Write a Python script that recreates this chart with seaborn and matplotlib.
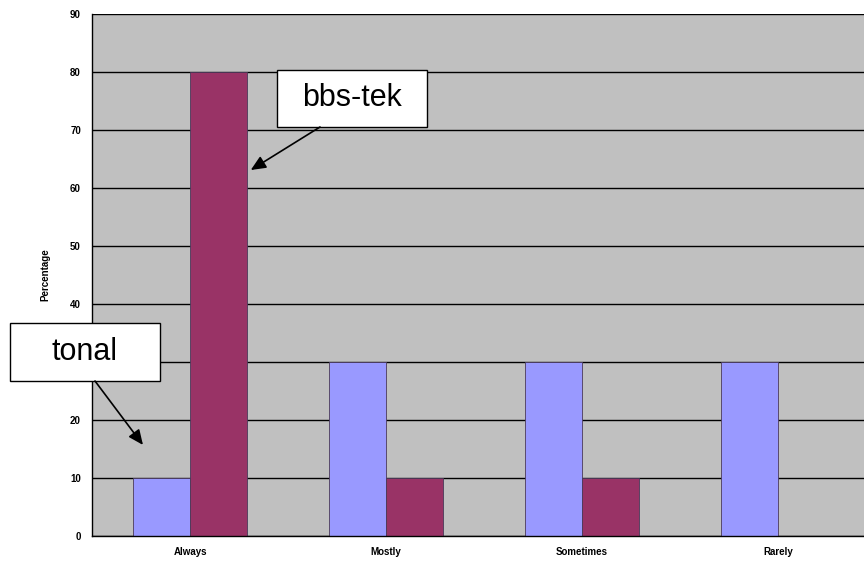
import pandas as pd
import matplotlib.pyplot as plt
import seaborn as sns
from matplotlib.patches import Rectangle

# Datos
categorias = ['Always', 'Mostly', 'Sometimes', 'Rarely']
tonal = [10, 30, 30, 30]
bbs_tek = [80, 10, 10, 0]
series = ['tonal', 'bbs-tek']
colores = ['#9999FF', '#993366']
y_ticks = [0, 10, 20, 30, 40, 50, 60, 70, 80, 90]

df = pd.DataFrame({
    'categoria': categorias * 2,
    'serie': ['tonal'] * 4 + ['bbs-tek'] * 4,
    'valor': tonal + bbs_tek,
})

sns.set_style('white')
plt.rcParams['font.family'] = ['Liberation Sans', 'DejaVu Sans']
plt.rcParams['text.color'] = 'black'
plt.rcParams['xtick.color'] = 'black'
plt.rcParams['ytick.color'] = 'black'
plt.rcParams['axes.labelcolor'] = 'black'

fig = plt.figure(figsize=(8.64, 5.62), dpi=100)
ax = fig.add_axes([92 / 864, 1 - 536 / 562, 784 / 864, 522 / 562])
ax.set_facecolor('#C0C0C0')

sns.barplot(data=df, x='categoria', y='valor', hue='serie', order=categorias,
            hue_order=series, palette=colores, saturation=1, width=0.58, gap=0,
            edgecolor='#4a3a5a', linewidth=0.6, legend=False, ax=ax, zorder=3)

ax.set_xlim(-0.5, 3.5)
ax.set_ylim(0, 90)
ax.set_yticks(y_ticks)
for v in y_ticks:
    ax.axhline(v, color='black', lw=1, zorder=1)

ax.set_xticks(range(4))
ax.set_xticklabels(categorias, fontsize=7, fontweight='bold')
ax.set_xticks([-0.5, 0.5, 1.5, 2.5, 3.5], minor=True)
ax.tick_params(axis='x', which='major', length=0, pad=8)
ax.tick_params(axis='x', which='minor', length=4, width=1, color='black', direction='out')
ax.tick_params(axis='y', length=5, width=1, color='black', direction='out', labelsize=7, pad=3)
for lab in ax.get_yticklabels():
    lab.set_fontweight('bold')
ax.set_xlabel('')
ax.set_ylabel('Percentage', fontsize=7, fontweight='bold', labelpad=14)

for s in ['top', 'right']:
    ax.spines[s].set_visible(False)
for s in ['left', 'bottom']:
    ax.spines[s].set_color('black')
    ax.spines[s].set_linewidth(1)
    ax.spines[s].set_zorder(4)

# Cuadros de anotacion (coordenadas en pixeles de la imagen)
def caja(x0, y0, x1, y1, texto):
    ax.add_patch(Rectangle((x0 / 864, 1 - y1 / 562), (x1 - x0) / 864, (y1 - y0) / 562,
                           transform=fig.transFigure, facecolor='white', edgecolor='black',
                           lw=1, clip_on=False, zorder=6))
    ax.text((x0 + x1) / 2 / 864, 1 - (y0 + y1) / 2 / 562, texto, transform=fig.transFigure,
            ha='center', va='center', fontsize=22, color='black', zorder=7)

caja(10, 323, 160, 381, 'tonal')
caja(277, 70, 427, 127, 'bbs-tek')

flecha = dict(arrowstyle='-|>,head_length=0.9,head_width=0.4', color='black', lw=1.2,
              shrinkA=0, shrinkB=0)
ax.annotate('', xy=(-0.24, 15.7), xytext=(95 / 864, 1 - 381 / 562),
            textcoords='figure fraction', arrowprops=flecha, annotation_clip=False, zorder=8)
ax.annotate('', xy=(0.31, 63.1), xytext=(320 / 864, 1 - 127 / 562),
            textcoords='figure fraction', arrowprops=flecha, annotation_clip=False, zorder=8)

fig.savefig('out.png', dpi=100)
